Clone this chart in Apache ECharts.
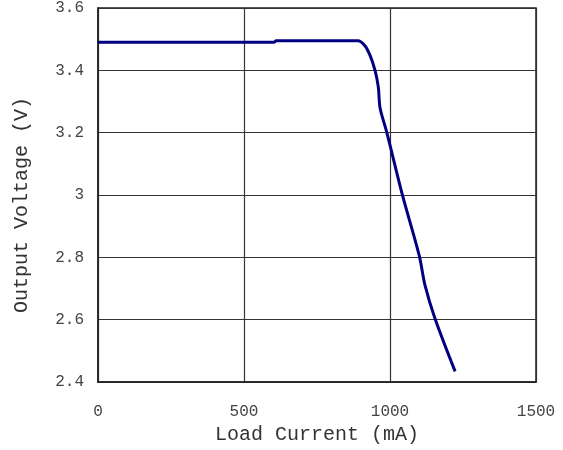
<!DOCTYPE html>
<html>
<head>
<meta charset="utf-8">
<script src="https://cdn.jsdelivr.net/npm/echarts@6/dist/echarts.min.js"></script>
<style>
  html, body { margin: 0; padding: 0; background: #fff; }
  #chart { width: 563px; height: 450px; }
</style>
</head>
<body>
<div id="chart"></div>
<script>
// Load current (mA) and measured output voltage (V)
const loadCurrent = [0, 603, 610, 890, 914, 932, 949, 960, 966, 989, 1042, 1100, 1120, 1154, 1223];
const outputVoltage = [3.490, 3.490, 3.495, 3.495, 3.479, 3.447, 3.399, 3.346, 3.279, 3.201, 3.002, 2.806, 2.710, 2.604, 2.434];

const xTicks = [0, 500, 1000, 1500];
const yTicks = [2.4, 2.6, 2.8, 3, 3.2, 3.4, 3.6];

const points = loadCurrent.map((x, i) => [x, outputVoltage[i]]);
const monoFont = '"Liberation Mono", "DejaVu Sans Mono", monospace';

const chart = echarts.init(document.getElementById('chart'));
chart.setOption({
  animation: false,
  backgroundColor: '#fff',
  grid: {
    left: 98, right: 27, top: 7, bottom: 66,
    show: true, borderColor: '#222', borderWidth: 1.5
  },
  xAxis: {
    type: 'value',
    min: xTicks[0], max: xTicks[xTicks.length - 1], interval: 500,
    name: 'Load Current (mA)',
    nameLocation: 'middle', nameGap: 43,
    nameTextStyle: { fontFamily: monoFont, fontSize: 20, color: '#333' },
    axisLine: { show: true, lineStyle: { color: '#222', width: 1.5 } },
    axisTick: { show: false },
    axisLabel: {
      fontFamily: monoFont, fontSize: 16, color: '#444', margin: 22,
      formatter: v => String(v)
    },
    splitLine: { show: true, lineStyle: { color: '#333', width: 1.2 } }
  },
  yAxis: {
    type: 'value',
    min: yTicks[0], max: yTicks[yTicks.length - 1], interval: 0.2,
    name: 'Output Voltage (V)',
    nameLocation: 'middle', nameGap: 66,
    nameTextStyle: {
      fontFamily: monoFont, fontSize: 20, color: '#333',
      padding: [0, 20, 0, 0]
    },
    axisLine: { show: true, lineStyle: { color: '#222', width: 1.5 } },
    axisTick: { show: false },
    axisLabel: {
      fontFamily: monoFont, fontSize: 16, color: '#444', margin: 14,
      formatter: v => String(Math.round(v * 10) / 10)
    },
    splitLine: { show: true, lineStyle: { color: '#333', width: 1.2 } }
  },
  series: [{
    type: 'line',
    data: points,
    smooth: 0.3,
    symbol: 'none',
    lineStyle: { color: '#000080', width: 3 }
  }]
});
</script>
</body>
</html>
